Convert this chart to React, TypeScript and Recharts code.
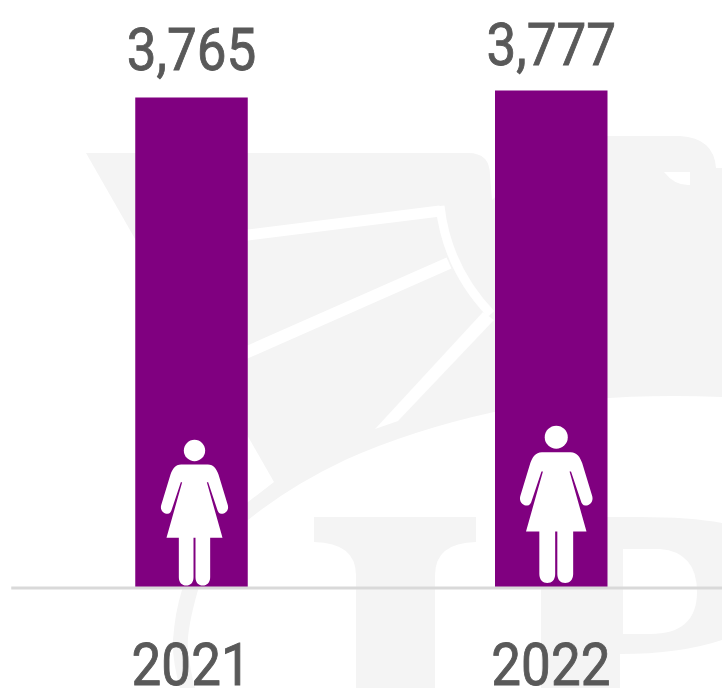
import { BarChart, Bar, XAxis, YAxis, LabelList, Rectangle } from 'recharts'

const years = ['2021', '2022']
const women = [3765, 3777]

const data = years.map((year, i) => ({ year, women: women[i] }))

const PURPLE = '#800080'
const GREY_TEXT = '#595959'
const WATERMARK = '#f4f4f4'

// the pictogram is a bit bigger and sits differently in each bar
const iconScale = [1 / 3, 0.36]
const iconShift = [3, 5]
const iconLift = [2.5, 5]
const labelGap = [27, 25.5]

const ICON_HEIGHT = 437
const ICON_BODY =
  'M-40 74H40C58 74 66 88 72 104L100 196C104 212 92 222 81 222C74 222 70 216 68 208L41 127L37 127L84 294H47V412C47 428 37 437 25 437C12 437 3 428 3 412V294H-3V412C-3 428 -12 437 -25 437C-37 437 -47 428 -47 412V294H-84L-37 127L-41 127L-68 208C-70 216 -74 222 -81 222C-92 222 -104 212 -100 196L-72 104C-66 88 -58 74 -40 74Z'

function Watermark() {
  return (
    <svg width={722} height={688} style={{ position: 'absolute', left: 0, top: 0 }}>
      <path
        fill={WATERMARK}
        d="M86 153H468Q490 153 490 175L492 200L560 136H680Q714 138 716 168H722V397Q600 392 494 412Q412 430 345 460Q290 486 248 520Q210 552 198 590Q186 632 188 650Q190 670 195 688H180Q172 660 173 640Q175 612 182 590Q200 535 248 502L274 482Z"
      />
      <path fill="#fff" d="M664 172H690V185Q675 186 664 172Z" />
      <path fill={WATERMARK} d="M314 517H476V542Q435 543 435 575V688H356V575Q356 543 314 542Z" />
      <path
        fill={WATERMARK}
        fillRule="evenodd"
        d="M520 517H640Q690 517 722 523V640Q680 654 620 654V688H541V517ZM623 549H660Q697 552 697 592Q697 634 650 634H623Z"
      />
      <g fill="none" stroke="#fff">
        <path strokeWidth={11} d="M200 241L440 211" />
        <path strokeWidth={9} d="M440 206Q447 268 491 314" />
        <path strokeWidth={12} d="M200 373L449 263" />
      </g>
      <path fill="#fff" d="M483 312L494 320L398 421L375 429Z" />
    </svg>
  )
}

function BarWithWoman(props: any) {
  const { x, y, width, height, index } = props
  const scale = iconScale[index]
  const top = y + height - iconLift[index] - ICON_HEIGHT * scale
  return (
    <g>
      <Rectangle x={x} y={y} width={width} height={height} fill={PURPLE} />
      <g
        fill="#fff"
        transform={`translate(${x + width / 2 + iconShift[index]} ${top}) scale(${scale})`}
      >
        <circle cx={0} cy={32} r={32} />
        <path d={ICON_BODY} />
      </g>
    </g>
  )
}

function ValueLabel(props: any) {
  const { x, y, width, value, index } = props
  return (
    <text
      transform={`translate(${x + width / 2} ${y - labelGap[index]}) scale(1 1.12)`}
      textAnchor="middle"
      fontFamily="Roboto"
      fontSize={53}
      fill={GREY_TEXT}
      stroke={GREY_TEXT}
      strokeWidth={0.8}
    >
      {value.toLocaleString('en-US')}
    </text>
  )
}

function YearTick(props: any) {
  const { x, payload } = props
  return (
    <text
      transform={`translate(${x} 685) scale(1 1.12)`}
      textAnchor="middle"
      fontFamily="Roboto"
      fontSize={53}
      fill={GREY_TEXT}
      stroke={GREY_TEXT}
      strokeWidth={0.8}
    >
      {payload.value}
    </text>
  )
}

export default function App() {
  return (
    <div style={{ position: 'absolute', left: 0, top: 0, width: 722, height: 688, overflow: 'hidden' }}>
      <Watermark />
      <div style={{ position: 'absolute', left: 0, top: 0 }}>
        <BarChart
          width={740}
          height={688}
          data={data}
          margin={{ top: 77, right: 9.25, bottom: 0, left: 11.25 }}
        >
          <XAxis
            dataKey="year"
            height={100}
            tickLine={false}
            stroke="#d9d9d9"
            strokeWidth={3}
            axisLine={{ stroke: '#d9d9d9', strokeWidth: 3 }}
            tick={<YearTick />}
            interval={0}
          />
          <YAxis hide domain={[2923, 3800]} />
          <Bar dataKey="women" barSize={112.5} shape={<BarWithWoman />} isAnimationActive={false}>
            <LabelList dataKey="women" content={<ValueLabel />} />
          </Bar>
        </BarChart>
      </div>
    </div>
  )
}
